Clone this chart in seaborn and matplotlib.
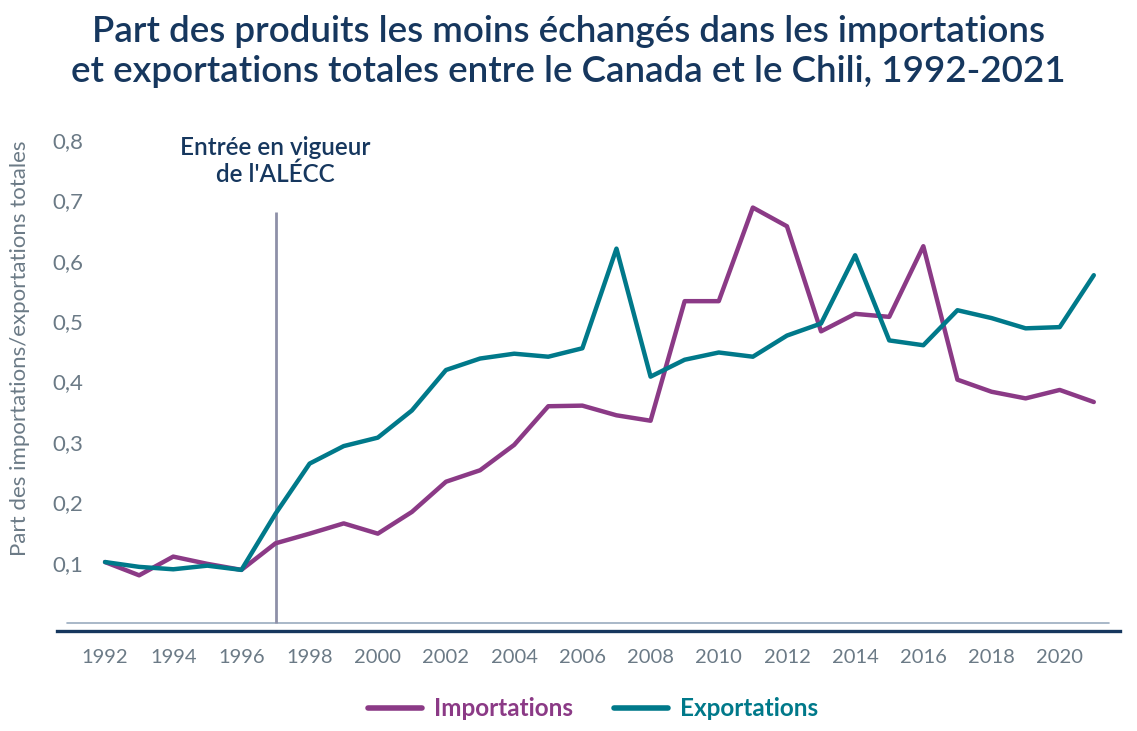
import pandas as pd
import numpy as np
import matplotlib
matplotlib.use("Agg")
import matplotlib.pyplot as plt
import seaborn as sns

annees = list(range(1992, 2022))
importations = [0.101, 0.079, 0.110, 0.098, 0.088, 0.132, 0.148, 0.165, 0.148, 0.184,
                0.234, 0.253, 0.295, 0.359, 0.360, 0.344, 0.335, 0.533, 0.533, 0.688,
                0.657, 0.483, 0.512, 0.507, 0.624, 0.403, 0.383, 0.372, 0.386, 0.366]
exportations = [0.101, 0.093, 0.089, 0.095, 0.088, 0.181, 0.264, 0.293, 0.307, 0.352,
                0.419, 0.438, 0.446, 0.441, 0.455, 0.620, 0.408, 0.436, 0.448, 0.441,
                0.476, 0.496, 0.609, 0.468, 0.460, 0.518, 0.505, 0.488, 0.490, 0.576]
series = ["Importations", "Exportations"]
couleurs = ["#8b3a86", "#00798a"]

df = pd.DataFrame({
    "annee": annees * 2,
    "part": importations + exportations,
    "serie": [series[0]] * len(annees) + [series[1]] * len(annees),
})

sns.set_theme(style="white")
plt.rcParams["font.family"] = ["Lato", "DejaVu Sans"]

navy = "#16375e"
gris = "#6b7a86"

fig = plt.figure(figsize=(11.37, 7.31), dpi=100)
ax = fig.add_axes([0.0501, 0.1368, 0.935, 0.685])

sns.lineplot(data=df, x="annee", y="part", hue="serie", palette=couleurs,
             linewidth=3.2, ax=ax, legend=True)

ax.set_xlim(1990.59, 2021.77)
ax.set_ylim(-0.0132, 0.816)

# ligne de base et entree en vigueur
ax.axhline(0, xmin=0.0094, xmax=0.9897, color="#9aabbf", linewidth=1.2, zorder=1)
ax.vlines(1997, 0, 0.68, color="#8e90a8", linewidth=2, zorder=1)
ax.text(1997, 0.765, "Entrée en vigueur\nde l'ALÉCC", ha="center", va="center",
        fontsize=17.5, color=navy, fontweight="semibold", linespacing=1.15)

for s in ["top", "right", "left"]:
    ax.spines[s].set_visible(False)
ax.spines["bottom"].set_color(navy)
ax.spines["bottom"].set_linewidth(2.4)

ax.set_xticks(range(1992, 2021, 2))
ax.set_yticks([0.1, 0.2, 0.3, 0.4, 0.5, 0.6, 0.7, 0.8])
ax.set_yticklabels([f"{v:.1f}".replace(".", ",") for v in ax.get_yticks()])
ax.tick_params(axis="x", length=0, pad=13, labelsize=14.5, labelcolor=gris)
ax.tick_params(axis="y", length=0, pad=-19, labelsize=16, labelcolor=gris)
ax.set_xlabel("")
ax.set_ylabel("")
fig.text(20 / 1137, 1 - 348 / 731, "Part des importations/exportations totales",
         rotation=90, ha="center", va="center", fontsize=16, color=gris)

fig.text(0.5, 1 - 31 / 731, "Part des produits les moins échangés dans les importations",
         ha="center", va="center", fontsize=26.5, color=navy, fontweight="semibold")
fig.text(0.5, 1 - 72 / 731, "et exportations totales entre le Canada et le Chili, 1992-2021",
         ha="center", va="center", fontsize=26.5, color=navy, fontweight="semibold")

ax.get_legend().remove()
handles, labels = ax.get_legend_handles_labels()
leg = fig.legend(handles, labels, loc="center", bbox_to_anchor=(593 / 1137, 1 - 709 / 731),
                 ncol=2, frameon=False, handlelength=2.2, handletextpad=0.5,
                 columnspacing=1.7, labelcolor="linecolor",
                 prop={"size": 17.5, "weight": "bold"})
for line in leg.get_lines():
    line.set_linewidth(4)
    line.set_solid_capstyle("round")

fig.savefig("out.png", dpi=100)
